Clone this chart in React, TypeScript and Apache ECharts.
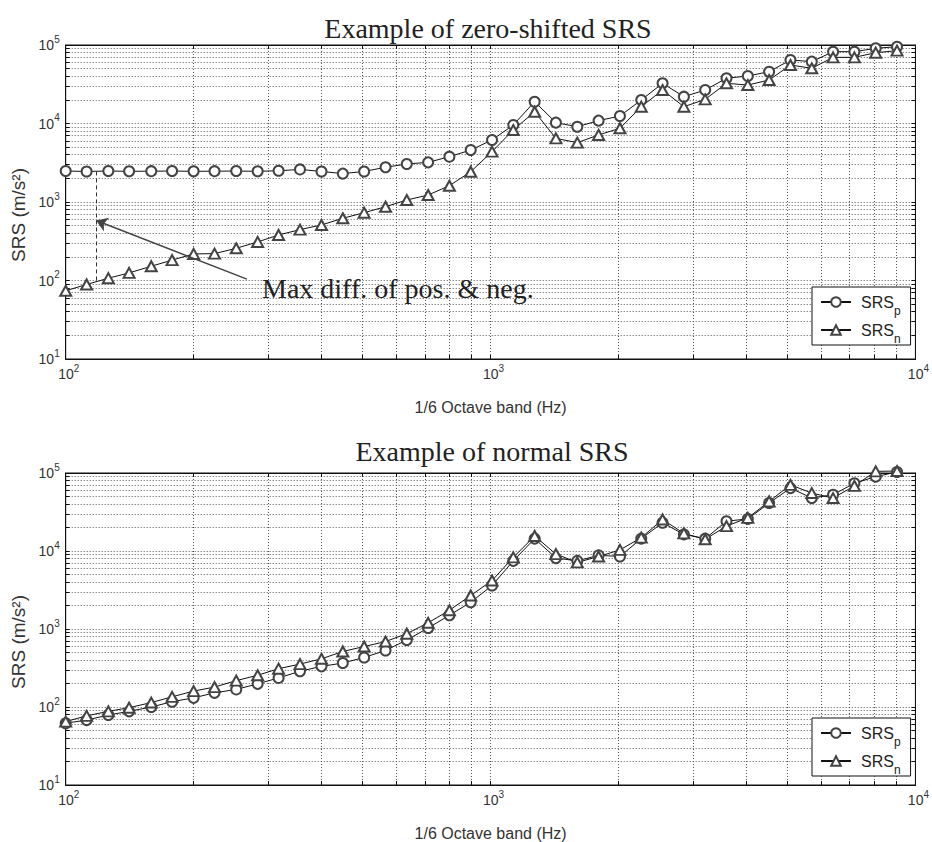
import { useEffect, useRef } from "react";
import * as echarts from "echarts";

// 1/6-octave band centre frequencies (Hz)
const bandFreqs = [
  100, 112, 126, 141, 159, 178, 200, 224, 252, 283, 317, 356, 400, 449, 504, 566, 635, 713, 800, 898,
  1008, 1131, 1270, 1425, 1600, 1796, 2016, 2263, 2540, 2851, 3200, 3592, 4032, 4525, 5080, 5702, 6400, 7184, 8063, 9051,
];

// Panel 1: zero-shifted SRS
const zeroShiftPos = [
  2480, 2450, 2480, 2460, 2470, 2480, 2460, 2470, 2480, 2460, 2500, 2600, 2450, 2300, 2450, 2770, 3050, 3200, 3780, 4590,
  6170, 9570, 18960, 10250, 9100, 10870, 12470, 19900, 32500, 21960, 26700, 37700, 40300, 45700, 64400, 61400, 82200, 82200, 90800, 95100,
];
const zeroShiftNeg = [
  74, 89, 107, 125, 152, 182, 218, 220, 257, 310, 380, 445, 510, 620, 731, 871, 1060, 1227, 1613, 2430,
  4380, 8260, 14120, 6470, 5700, 7150, 8690, 16370, 26700, 16370, 20300, 32500, 30900, 35800, 55600, 50500, 69600, 69600, 79800, 84700,
];

// Panel 2: normal SRS
const normalPos = [
  62, 68, 79, 88, 100, 117, 131, 152, 168, 198, 236, 287, 332, 366, 432, 530, 723, 1030, 1500, 2200,
  3610, 7480, 14420, 8110, 7480, 8800, 8510, 14420, 23000, 16330, 14420, 24100, 25800, 41200, 64000, 47700, 52600, 74000, 89800, 103000,
];
const normalNeg = [
  65, 77, 88, 98, 114, 135, 160, 180, 218, 255, 310, 355, 415, 515, 596, 690, 870, 1200, 1738, 2690,
  4180, 8280, 15570, 9110, 7150, 8500, 10330, 14830, 25350, 16810, 14130, 20840, 26600, 43200, 70500, 55300, 47700, 68400, 105000, 106000,
];

// Axis ticks / grid values
const xGridValues = [100, 200, 300, 400, 500, 600, 700, 800, 900, 1000, 2000, 3000, 4000, 5000, 6000, 7000, 8000, 9000, 10000];
const yGridValues = [
  10, 20, 30, 40, 50, 60, 70, 80, 90, 100, 200, 300, 400, 500, 600, 700, 800, 900, 1000, 2000, 3000, 4000, 5000, 6000, 7000, 8000, 9000,
  10000, 20000, 30000, 40000, 50000, 60000, 70000, 80000, 90000, 100000,
];
const xLabelValues = [100, 1000, 10000];
const yLabelValues = [10, 100, 1000, 10000, 100000];

const panelTitles = ["Example of zero-shifted SRS", "Example of normal SRS"];
const xAxisName = "1/6 Octave band (Hz)";
const yAxisName = "SRS (m/s\u00B2)";
const seriesKeys = ["p", "n"];

// Annotation (panel 1), in data coordinates
const annotationText = "Max diff. of pos. & neg.";
const diffLineFreq = 118;
const diffLineRange = [2450, 96];
const arrowTail = [267, 104];
const arrowHead = [118, 580];

const SANS = "Liberation Sans, Arial, Helvetica, sans-serif";
const SERIF = "Liberation Serif, Times New Roman, serif";

const expFormatter = (v: number) => `{b|10}{e|${Math.round(Math.log10(v))}}`;

const labelRich = {
  b: { fontSize: 14, lineHeight: 22, fontFamily: SANS, color: "#333" },
  e: { fontSize: 10, lineHeight: 10, verticalAlign: "top", fontFamily: SANS, color: "#333" },
};
const xLabelRich = {
  b: { fontSize: 14, lineHeight: 22, fontFamily: SANS, color: "#333", padding: [0, 0, 0, 6] },
  e: { fontSize: 10, lineHeight: 10, verticalAlign: "top", fontFamily: SANS, color: "#333" },
};

const gridLine = { show: true, lineStyle: { color: "#555", width: 1, type: [1, 2] } };
const axisLineStyle = { show: true, onZero: false, lineStyle: { color: "#111", width: 1 } };

const grids = [
  { left: 65.7, top: 45, width: 855.5, height: 314 },
  { left: 65.7, top: 473, width: 855.5, height: 315 },
];

function bottomX(gridIndex: number) {
  return {
    type: "log",
    logBase: 10,
    gridIndex,
    position: "bottom",
    min: 100,
    max: 10000,
    axisLine: axisLineStyle,
    axisTick: { show: true, inside: true, length: 4, customValues: xGridValues, lineStyle: { color: "#111" } },
    axisLabel: { show: true, customValues: xLabelValues, formatter: expFormatter, margin: 4, rich: xLabelRich },
    splitLine: gridLine,
    name: xAxisName,
    nameLocation: "middle",
    nameGap: 40,
    nameTextStyle: { fontFamily: SANS, fontSize: 16, color: "#333" },
  };
}
function topX(gridIndex: number) {
  return {
    type: "log",
    logBase: 10,
    gridIndex,
    position: "top",
    min: 100,
    max: 10000,
    axisLine: axisLineStyle,
    axisTick: { show: true, inside: true, length: 4, customValues: xGridValues, lineStyle: { color: "#111" } },
    axisLabel: { show: false },
    splitLine: { show: false },
  };
}
function leftY(gridIndex: number) {
  return {
    type: "log",
    logBase: 10,
    gridIndex,
    position: "left",
    min: 10,
    max: 100000,
    axisLine: axisLineStyle,
    axisTick: { show: true, inside: true, length: 4, customValues: yGridValues, lineStyle: { color: "#111" } },
    axisLabel: { show: true, customValues: yLabelValues, formatter: expFormatter, margin: 6, rich: labelRich },
    splitLine: gridLine,
    name: yAxisName,
    nameLocation: "middle",
    nameGap: 35,
    nameTextStyle: { fontFamily: SANS, fontSize: 19, color: "#333", padding: [0, 26, 0, 0] },
  };
}
function rightY(gridIndex: number) {
  return {
    type: "log",
    logBase: 10,
    gridIndex,
    position: "right",
    min: 10,
    max: 100000,
    axisLine: axisLineStyle,
    axisTick: { show: true, inside: true, length: 4, customValues: yGridValues, lineStyle: { color: "#111" } },
    axisLabel: { show: false },
    splitLine: { show: false },
  };
}

function srsSeries(name: string, vals: number[], grid: number, symbol: string, size: number | number[], extra: any = {}) {
  return {
    type: "line",
    name,
    xAxisIndex: grid,
    yAxisIndex: grid,
    data: bandFreqs.map((f, i) => [f, vals[i]]),
    symbol,
    symbolSize: size,
    showAllSymbol: true,
    clip: false,
    silent: true,
    lineStyle: { color: "#111", width: 1 },
    itemStyle: { color: "#444", borderWidth: 1 },
    emphasis: { disabled: true },
    z: 3,
    ...extra,
  };
}

const annotationMarks = {
  silent: true,
  symbol: ["none", "none"],
  label: { show: false },
  emphasis: { disabled: true },
  data: [
    [
      { coord: [diffLineFreq, diffLineRange[0]], lineStyle: { type: [4, 3], color: "#333", width: 1 } },
      { coord: [diffLineFreq, diffLineRange[1]] },
    ],
    [
      { coord: arrowTail, symbol: "none", lineStyle: { type: "solid", color: "#444", width: 1.5 } },
      { coord: arrowHead, symbol: "arrow", symbolSize: 11 },
    ],
  ],
};

function legendFor(i: number) {
  return {
    data: seriesKeys,
    orient: "vertical",
    left: 812,
    top: i === 0 ? 287 : 718,
    backgroundColor: "#fff",
    borderColor: "#111",
    borderWidth: 1,
    borderRadius: 0,
    padding: [0, 10, 0, 8],
    itemGap: -2,
    itemWidth: 30,
    itemHeight: 12,
    selectedMode: false,
    formatter: (n: string) => `{a|SRS}{s|${n}}`,
    textStyle: {
      fontFamily: SANS,
      fontSize: 16,
      lineHeight: 30,
      color: "#222",
      rich: {
        a: { fontFamily: SANS, fontSize: 16, lineHeight: 30, color: "#222", padding: [0, 0, 0, 5] },
        s: { fontFamily: SANS, fontSize: 12, lineHeight: 12, verticalAlign: "bottom", color: "#222" },
      },
    },
  };
}

export default function App() {
  const ref = useRef<HTMLDivElement>(null);
  useEffect(() => {
    if (!ref.current) return;
    const chart = echarts.init(ref.current, undefined, { renderer: "svg" });
    const option: any = {
      animation: false,
      backgroundColor: "#fff",
      grid: grids.map((g) => ({ ...g, show: true, borderColor: "#111", borderWidth: 1, backgroundColor: "transparent" })),
      xAxis: [bottomX(0), bottomX(1), topX(0), topX(1)],
      yAxis: [leftY(0), leftY(1), rightY(0), rightY(1)],
      legend: [legendFor(0), legendFor(1)],
      series: [
        srsSeries(seriesKeys[0], zeroShiftPos, 0, "emptyCircle", 10),
        srsSeries(seriesKeys[1], zeroShiftNeg, 0, "emptyTriangle", [11, 10], { markLine: annotationMarks }),
        srsSeries(seriesKeys[0], normalPos, 1, "emptyCircle", 10),
        srsSeries(seriesKeys[1], normalNeg, 1, "emptyTriangle", [11, 10]),
      ],
      graphic: [
        {
          type: "text",
          x: 488,
          y: 28,
          style: { text: panelTitles[0], fontFamily: SERIF, fontSize: 28, fill: "#222", align: "center", verticalAlign: "middle" },
        },
        {
          type: "text",
          x: 492,
          y: 451,
          style: { text: panelTitles[1], fontFamily: SERIF, fontSize: 28, fill: "#222", align: "center", verticalAlign: "middle" },
        },
        {
          type: "text",
          x: 262,
          y: 288,
          z: 10,
          style: { text: annotationText, fontFamily: SERIF, fontSize: 28, fill: "#222", align: "left", verticalAlign: "middle" },
        },
      ],
    };
    chart.setOption(option);
    return () => chart.dispose();
  }, []);
  return (
    <div
      ref={ref}
      style={{ position: "absolute", left: 0, top: 0, width: 932, height: 842, background: "#fff" }}
    />
  );
}
